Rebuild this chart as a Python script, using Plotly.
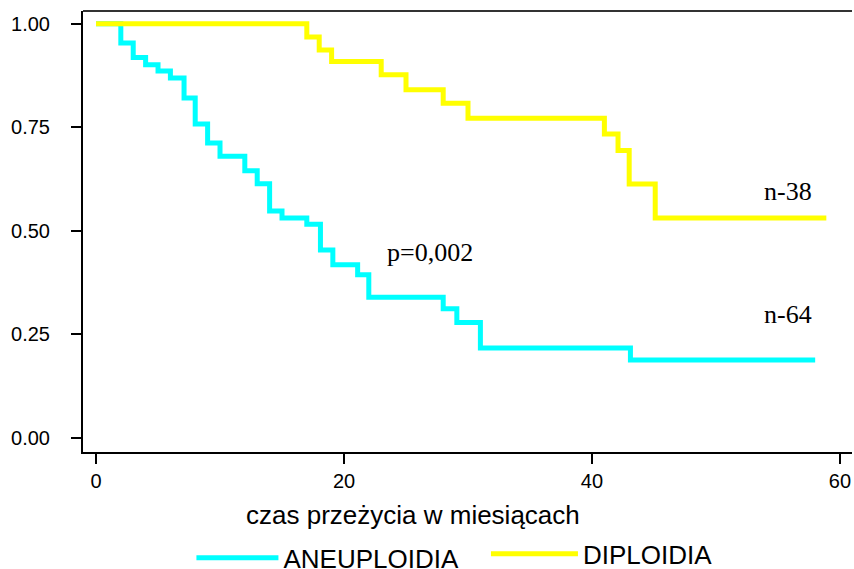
import plotly.graph_objects as go

# ANEUPLOIDIA (n=64)
aneu_time = [0, 2, 3, 4, 5, 6, 7.1, 8, 9, 10, 12, 13, 14, 15, 17, 18.1, 19.1, 21.1, 22, 28, 29.1, 31, 43.1, 58]
aneu_surv = [1.00, 0.954, 0.919, 0.901, 0.886, 0.869, 0.821, 0.758, 0.712, 0.680, 0.645, 0.614,
             0.548, 0.531, 0.516, 0.454, 0.418, 0.394, 0.340, 0.312, 0.279, 0.217, 0.188, 0.188]

# DIPLOIDIA (n=38)
dipl_time = [0, 17, 18, 19, 23, 25, 28, 30, 41, 42.1, 43, 45.1, 58.9]
dipl_surv = [1.00, 0.968, 0.937, 0.909, 0.877, 0.841, 0.808, 0.772, 0.734, 0.694, 0.613, 0.531, 0.531]

x_ticks = [0, 20, 40, 60]
y_ticks = [0, 0.25, 0.5, 0.75, 1.0]
y_ticktext = ["0.00", "0.25", "0.50", "0.75", "1.00"]

fig = go.Figure()
fig.add_trace(go.Scatter(x=aneu_time, y=aneu_surv, mode="lines", line_shape="hv",
                         line=dict(color="#00FFFF", width=5), name="ANEUPLOIDIA", legend="legend"))
fig.add_trace(go.Scatter(x=dipl_time, y=dipl_surv, mode="lines", line_shape="hv",
                         line=dict(color="#FFFF00", width=5), name="DIPLOIDIA", legend="legend2"))

fig.update_layout(
    width=854, height=569,
    showlegend=True,
    margin=dict(l=83, r=2, t=11, b=117, autoexpand=False),
    plot_bgcolor="white", paper_bgcolor="white",
    font=dict(family="Liberation Sans, Arial, sans-serif", color="black"),
    xaxis=dict(range=[-1.05, 60.97], tickvals=x_ticks, ticks="outside", ticklen=10, tickwidth=1.5,
               tickcolor="black", showline=True, linecolor="black", linewidth=2,
               showgrid=False, zeroline=False, tickfont=dict(size=20)),
    yaxis=dict(range=[-0.034, 1.031], tickvals=y_ticks, ticktext=y_ticktext, ticks="outside",
               ticklen=10, tickwidth=1.5, tickcolor="black", showline=True, linecolor="black",
               linewidth=2, showgrid=False, zeroline=False, tickfont=dict(size=20),
               ticklabelstandoff=17),
    legend=dict(x=0.141, y=-0.240, xanchor="left", yanchor="middle", orientation="h",
                itemwidth=82, font=dict(size=26), bgcolor="rgba(0,0,0,0)"),
    legend2=dict(x=0.524, y=-0.231, xanchor="left", yanchor="middle", orientation="h",
                 itemwidth=87, font=dict(size=26), bgcolor="rgba(0,0,0,0)"),
    shapes=[dict(type="line", xref="paper", yref="paper", x0=0, x1=1, y0=1, y1=1,
                 line=dict(color="#333333", width=2))],
    annotations=[
        dict(text="czas przeżycia w miesiącach", xref="paper", yref="paper", x=0.429, y=-0.143,
             xanchor="center", yanchor="middle", showarrow=False, font=dict(size=26)),
        dict(text="n-38", x=55.8, y=0.594, showarrow=False, xanchor="center", yanchor="middle",
             font=dict(family="Liberation Serif, Times New Roman, serif", size=26)),
        dict(text="n-64", x=55.8, y=0.298, showarrow=False, xanchor="center", yanchor="middle",
             font=dict(family="Liberation Serif, Times New Roman, serif", size=26)),
        dict(text="p=0,002", x=26.9, y=0.449, showarrow=False, xanchor="center", yanchor="middle",
             font=dict(family="Liberation Serif, Times New Roman, serif", size=26)),
    ],
)

fig.write_html("out.html", config={"displayModeBar": False},
               post_script="document.body.style.margin='0';document.body.style.overflow='hidden';")
